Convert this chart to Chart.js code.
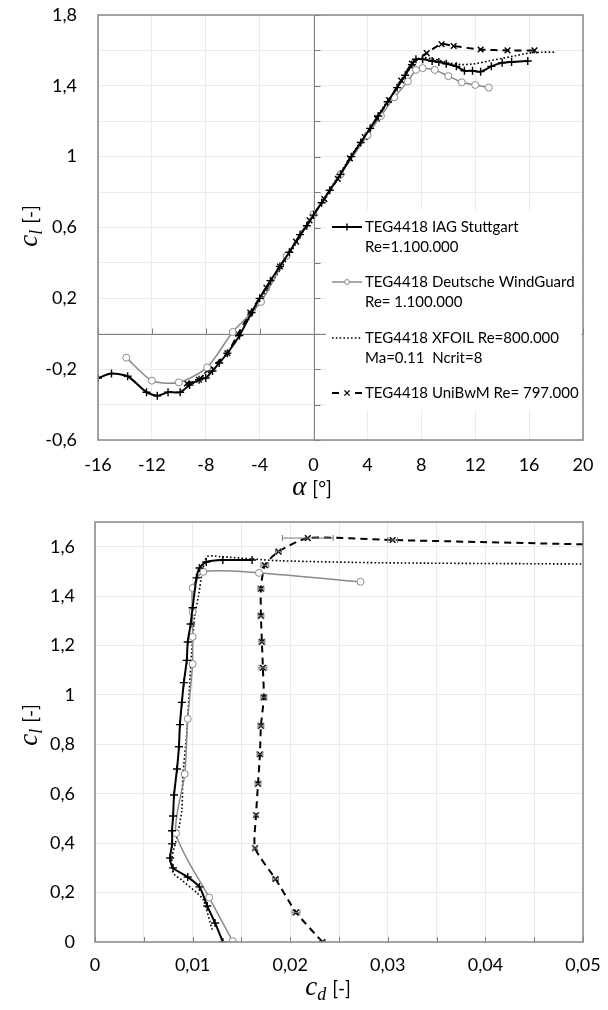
<!DOCTYPE html>
<html>
<head>
<meta charset="utf-8">
<script src="https://cdn.jsdelivr.net/npm/chart.js@4.4.1/dist/chart.umd.min.js"></script>
<style>
  html, body { margin: 0; padding: 0; background: #fff; }
  #wrap { position: relative; width: 608px; height: 1010px; }
  canvas { position: absolute; left: 0; }
</style>
</head>
<body>
<div id="wrap">
  <canvas id="clAlphaChart" width="608" height="500" style="top:0"></canvas>
  <canvas id="clCdChart" width="608" height="510" style="top:500px"></canvas>
</div>
<script>
// ---- lift curve c_l(alpha) ----
const alphaIAG = [-16, -15, -13.8, -12.4, -11.6, -10.8, -9.9, -9.2, -8.5, -8, -7.5, -7, -6.4, -5.5, -4.6, -4, -3.2, -2.5, -1.8, -1,
  -0.5, 0, 0.6, 1.2, 2, 2.8, 3.5, 4.2, 4.8, 5.5, 6.2, 6.8, 7.3, 7.6, 8.1, 8.8, 9.3, 9.85, 10.6, 11.2, 11.8, 12.4, 13.2, 14, 14.7, 15.9];
const clIAG = [-0.25, -0.225, -0.24, -0.33, -0.35, -0.33, -0.33, -0.29, -0.26, -0.25, -0.21, -0.165, -0.11, -0.01, 0.12, 0.2, 0.3, 0.38, 0.46, 0.56,
  0.61, 0.67, 0.74, 0.81, 0.9, 1.0, 1.08, 1.16, 1.23, 1.31, 1.39, 1.46, 1.52, 1.55, 1.55, 1.54, 1.535, 1.525, 1.51, 1.485, 1.485, 1.48, 1.51, 1.53, 1.535, 1.54];

const alphaDWG = [-13.9, -12, -10, -7.9, -6, -3.9, -2, 0, 2, 4, 5, 6, 7, 7.6, 8.1, 9, 10, 11, 12, 13];
const clDWG = [-0.135, -0.265, -0.275, -0.19, 0.01, 0.18, 0.44, 0.675, 0.9, 1.12, 1.23, 1.335, 1.425, 1.49, 1.5, 1.49, 1.455, 1.42, 1.405, 1.39];

const alphaXF = [-5, -4, -3, -2, -1, 0, 1, 2, 3, 4, 5, 6, 7, 7.5, 8, 9, 10, 11, 12, 13, 14, 15, 16, 17, 18];
const clXF = [0.06, 0.18, 0.3, 0.42, 0.55, 0.67, 0.79, 0.91, 1.03, 1.14, 1.26, 1.37, 1.48, 1.54, 1.56, 1.55, 1.53, 1.52, 1.525, 1.54, 1.555, 1.57, 1.585, 1.59, 1.59];

const alphaUni = [-9.4, -8.5, -7.9, -6.4, -5.6, -4.7, -3.5, -2.5, -1.3, -0.3, 0.8, 1.8, 2.7, 3.8, 4.7, 5.6, 6.5, 7.3, 8.4, 9.5, 10.4, 12.4, 14.4, 16.4];
const clUni = [-0.28, -0.26, -0.21, -0.11, 0.0, 0.12, 0.26, 0.38, 0.52, 0.64, 0.76, 0.875, 0.99, 1.11, 1.215, 1.32, 1.43, 1.525, 1.585, 1.635, 1.625, 1.605, 1.6, 1.6];

// ---- drag polar c_l(c_d) ----
const cdIAG = [0.0131, 0.0123, 0.0115, 0.0107, 0.0095, 0.0080, 0.0077, 0.0079, 0.0079, 0.0080, 0.0081, 0.0084, 0.0086, 0.0087, 0.0089, 0.0091, 0.0094, 0.0095, 0.0098, 0.0100, 0.0104, 0.0107, 0.0114, 0.0131, 0.0161];
const clIAGpolar = [0.0, 0.077, 0.146, 0.223, 0.263, 0.30, 0.34, 0.397, 0.45, 0.51, 0.595, 0.70, 0.79, 0.88, 0.97, 1.05, 1.14, 1.214, 1.287, 1.353, 1.474, 1.514, 1.538, 1.546, 1.546];

const cdDWG = [0.0141, 0.0117, 0.0083, 0.0092, 0.0095, 0.0100, 0.0100, 0.0100, 0.0100, 0.0111, 0.0168, 0.0272];
const clDWGpolar = [0.004, 0.18, 0.44, 0.68, 0.903, 1.125, 1.235, 1.336, 1.433, 1.498, 1.494, 1.458];

const cdXF = [0.0120, 0.0111, 0.0104, 0.0089, 0.0080, 0.0079, 0.0084, 0.0089, 0.0090, 0.0094, 0.0098, 0.0102, 0.0106, 0.0110, 0.0115, 0.0128, 0.0162, 0.0190, 0.0292, 0.0500];
const clXFpolar = [0.05, 0.17, 0.20, 0.25, 0.28, 0.345, 0.425, 0.535, 0.67, 0.846, 1.11, 1.316, 1.40, 1.498, 1.56, 1.56, 1.55, 1.543, 1.535, 1.53];

const cdUni = [0.0233, 0.0206, 0.0185, 0.0164, 0.0165, 0.0167, 0.0169, 0.0170, 0.0173, 0.0172, 0.0171, 0.0170, 0.0170, 0.0174, 0.0188, 0.0218, 0.0305, 0.0550];
const clUniPolar = [0.0, 0.12, 0.255, 0.38, 0.514, 0.64, 0.76, 0.875, 0.99, 1.11, 1.215, 1.32, 1.43, 1.525, 1.58, 1.635, 1.627, 1.605];
const cdUniErr = [0.0003, 0.0004, 0.0003, 0.0002, 0.0002, 0.0003, 0.0003, 0.0003, 0.0003, 0.0004, 0.0003, 0.0003, 0.0003, 0.0004, 0.0003, 0.0026, 0.0005, 0];

// legend text (two lines per entry)
const seriesNames = ['TEG4418 IAG Stuttgart', 'TEG4418 Deutsche WindGuard', 'TEG4418 XFOIL Re=800.000', 'TEG4418 UniBwM Re= 797.000'];
const seriesNotes = ['Re=1.100.000', 'Re= 1.100.000', 'Ma=0.11  Ncrit=8', ''];

const FONT = 'Lato, "Open Sans", sans-serif';
const GRID = '#ebebeb';
const AXIS = '#7f7f7f';

const pts = (xs, ys) => xs.map((x, i) => ({ x: x, y: ys[i] }));
const fmt = v => String(+v.toFixed(3)).replace('.', ',');

function styleIAG(data) {
  return { label: seriesNames[0], data, showLine: true, borderColor: '#000', borderWidth: 2, tension: 0.25,
    pointStyle: 'cross', pointRadius: 4, pointBorderWidth: 1.4, pointBorderColor: '#000' };
}
function styleDWG(data) {
  return { label: seriesNames[1], data, showLine: true, borderColor: '#8a8a8a', borderWidth: 1.5, tension: 0.25,
    pointStyle: 'circle', pointRadius: 3.5, pointBorderWidth: 1, pointBorderColor: '#8a8a8a', pointBackgroundColor: '#fff' };
}
function styleXF(data) {
  return { label: seriesNames[2], data, showLine: true, borderColor: '#000', borderWidth: 1.6, borderDash: [1.6, 2.2], tension: 0.25,
    pointRadius: 0 };
}
function styleUni(data) {
  return { label: seriesNames[3], data, showLine: true, borderColor: '#000', borderWidth: 2, borderDash: [7, 5], tension: 0.2,
    pointStyle: 'crossRot', pointRadius: 4, pointBorderWidth: 1.4, pointBorderColor: '#000' };
}

function drawMathTitle(ctx, cx, cy, rotate, sym, sub, unit) {
  ctx.save();
  ctx.translate(cx, cy);
  if (rotate) ctx.rotate(-Math.PI / 2);
  const fSym = 'italic 27px "Liberation Serif"';
  const fSub = 'italic 18px "Liberation Serif"';
  const fUnit = '19px ' + FONT;
  ctx.font = fSym; const w1 = ctx.measureText(sym).width;
  ctx.font = fSub; const w2 = sub ? ctx.measureText(sub).width : 0;
  ctx.font = fUnit; const w3 = ctx.measureText(unit).width;
  const gap = 6;
  let x = -(w1 + w2 + gap + w3) / 2;
  ctx.fillStyle = '#000';
  ctx.textBaseline = 'alphabetic';
  ctx.font = fSym; ctx.fillText(sym, x, 7); x += w1;
  if (sub) { ctx.font = fSub; ctx.fillText(sub, x, 12); x += w2; }
  x += gap;
  ctx.font = fUnit; ctx.fillText(unit, x, 7);
  ctx.restore();
}

function drawMarker(ctx, style, x, y, r) {
  ctx.beginPath();
  if (style === 'cross') {
    ctx.moveTo(x - r, y); ctx.lineTo(x + r, y); ctx.moveTo(x, y - r); ctx.lineTo(x, y + r);
    ctx.stroke();
  } else if (style === 'crossRot') {
    const d = r * 0.75;
    ctx.moveTo(x - d, y - d); ctx.lineTo(x + d, y + d); ctx.moveTo(x - d, y + d); ctx.lineTo(x + d, y - d);
    ctx.stroke();
  } else if (style === 'circle') {
    ctx.arc(x, y, r, 0, Math.PI * 2);
    ctx.fillStyle = '#fff'; ctx.fill(); ctx.stroke();
  }
}

const framePlugin = {
  id: 'frame',
  beforeDatasetsDraw(chart, args, opts) {
    const { ctx, chartArea: a, scales: { x, y } } = chart;
    ctx.save();
    ctx.strokeStyle = AXIS;
    ctx.lineWidth = 1;
    ctx.beginPath();
    if (opts.zeroAxes) {
      const x0 = Math.round(x.getPixelForValue(0)) + 0.5;
      const y0 = Math.round(y.getPixelForValue(0)) + 0.5;
      ctx.moveTo(a.left, y0); ctx.lineTo(a.right, y0);
      ctx.moveTo(x0, a.top); ctx.lineTo(x0, a.bottom);
      x.ticks.forEach(t => { const px = Math.round(x.getPixelForValue(t.value)) + 0.5; ctx.moveTo(px, y0); ctx.lineTo(px, y0 - 6); });
      y.ticks.forEach(t => { const py = Math.round(y.getPixelForValue(t.value)) + 0.5; ctx.moveTo(x0, py); ctx.lineTo(x0 + 6, py); });
    }
    if (opts.bottomTicks) {
      x.ticks.forEach(t => { const px = Math.round(x.getPixelForValue(t.value)) + 0.5; ctx.moveTo(px, a.bottom); ctx.lineTo(px, a.bottom - 5); });
    }
    ctx.stroke();
    ctx.restore();
  },
  afterDatasetsDraw(chart, args, opts) {
    const { ctx, chartArea: a, scales: { x, y } } = chart;
    ctx.save();
    // error bars in c_d
    if (opts.errors) {
      const meta = chart.getDatasetMeta(opts.errors.dataset);
      const ds = chart.data.datasets[opts.errors.dataset];
      ctx.beginPath();
      ctx.rect(a.left, a.top, a.right - a.left, a.bottom - a.top);
      ctx.clip();
      ctx.strokeStyle = '#777';
      ctx.lineWidth = 1;
      ctx.beginPath();
      ds.data.forEach((p, i) => {
        const e = opts.errors.values[i];
        if (!e) return;
        const py = meta.data[i].y;
        const l = x.getPixelForValue(p.x - e), r = x.getPixelForValue(p.x + e);
        ctx.moveTo(l, py); ctx.lineTo(r, py);
        ctx.moveTo(l, py - 3); ctx.lineTo(l, py + 3);
        ctx.moveTo(r, py - 3); ctx.lineTo(r, py + 3);
      });
      ctx.stroke();
    }
    ctx.restore();
  },
  afterDraw(chart, args, opts) {
    const { ctx, chartArea: a } = chart;
    ctx.save();
    ctx.strokeStyle = '#888';
    ctx.lineWidth = 1.5;
    ctx.strokeRect(a.left, a.top, a.right - a.left, a.bottom - a.top);

    if (opts.legend) {
      const lx = a.left + 228, ly = a.top + 195;
      ctx.fillStyle = '#fff';
      ctx.fillRect(lx, ly, a.right - lx - 1.5, 200);
      const sx = a.left + 234, ex = a.left + 264, tx = a.left + 267;
      const rows = [212, 267, 323, 378];
      ctx.font = '15px ' + FONT;
      ctx.textBaseline = 'middle';
      chart.data.datasets.forEach((ds, i) => {
        const yy = a.top + rows[i];
        ctx.save();
        ctx.strokeStyle = ds.borderColor;
        ctx.lineWidth = ds.borderWidth;
        ctx.setLineDash(i === 3 ? [] : (ds.borderDash || []));
        ctx.beginPath();
        if (i === 3) {
          ctx.moveTo(sx, yy); ctx.lineTo(sx + 7, yy);
          ctx.moveTo(ex - 7, yy); ctx.lineTo(ex, yy);
        } else {
          ctx.moveTo(sx, yy); ctx.lineTo(ex, yy);
        }
        ctx.stroke();
        ctx.setLineDash([]);
        ctx.lineWidth = ds.pointBorderWidth || 1;
        ctx.strokeStyle = ds.pointBorderColor || ds.borderColor;
        if (ds.pointRadius) drawMarker(ctx, ds.pointStyle, (sx + ex) / 2, yy, ds.pointStyle === 'circle' ? 2.5 : 3.5);
        ctx.restore();
        ctx.fillStyle = '#000';
        ctx.fillText(seriesNames[i], tx, yy);
        if (seriesNotes[i]) ctx.fillText(seriesNotes[i], tx, yy + 20);
      });
    }
    const t = opts.titles;
    drawMathTitle(ctx, t.yx, t.yy, true, 'c', 'l', '[-]');
    drawMathTitle(ctx, t.xx, t.xy, false, t.xSym, t.xSub, t.xUnit);
    ctx.restore();
  }
};

function baseScale(extra) {
  return Object.assign({
    type: 'linear',
    grid: { color: GRID, drawTicks: false, lineWidth: 1 },
    border: { display: false },
  }, extra);
}

// fixed axis sizes, no label overflow padding
const fixX = h => s => { s.height = h; s.paddingLeft = 0; s.paddingRight = 0; };
const fixY = w => s => { s.width = w; s.paddingTop = 0; s.paddingBottom = 0; };

// ---------- top chart ----------
new Chart(document.getElementById('clAlphaChart'), {
  type: 'scatter',
  data: {
    datasets: [
      styleIAG(pts(alphaIAG, clIAG)),
      styleDWG(pts(alphaDWG, clDWG)),
      styleXF(pts(alphaXF, clXF)),
      styleUni(pts(alphaUni, clUni)),
    ]
  },
  options: {
    responsive: false,
    animation: false,
    events: [],
    layout: { padding: { left: 0, right: 25, top: 15, bottom: 0 } },
    plugins: {
      legend: { display: false },
      tooltip: { enabled: false },
      frame: {
        zeroAxes: true,
        legend: true,
        titles: { yx: 30, yy: 226, xx: 312, xy: 488, xSym: 'α', xSub: '', xUnit: '[°]' }
      }
    },
    scales: {
      x: baseScale({
        min: -16, max: 20,
        ticks: { stepSize: 4, padding: 14, color: '#000', font: { family: FONT, size: 18 }, maxRotation: 0, autoSkip: false, callback: v => fmt(v) },
        afterFit: fixX(60)
      }),
      y: baseScale({
        min: -0.6, max: 1.8,
        ticks: { stepSize: 0.2, padding: 21, color: '#000', font: { family: FONT, size: 18 }, autoSkip: false,
          callback: v => (Math.round((v + 0.6) / 0.2) % 2 === 0 ? fmt(v) : '') },
        afterFit: fixY(98)
      })
    }
  },
  plugins: [framePlugin]
});

// ---------- bottom chart ----------
new Chart(document.getElementById('clCdChart'), {
  type: 'scatter',
  data: {
    datasets: [
      styleIAG(pts(cdIAG, clIAGpolar)),
      styleDWG(pts(cdDWG, clDWGpolar)),
      styleXF(pts(cdXF, clXFpolar)),
      styleUni(pts(cdUni, clUniPolar)),
    ]
  },
  options: {
    responsive: false,
    animation: false,
    events: [],
    layout: { padding: { left: 0, right: 25, top: 22, bottom: 0 } },
    plugins: {
      legend: { display: false },
      tooltip: { enabled: false },
      frame: {
        bottomTicks: true,
        errors: { dataset: 3, values: cdUniErr },
        titles: { yx: 30, yy: 225, xx: 328, xy: 488, xSym: 'c', xSub: 'd', xUnit: '[-]' }
      }
    },
    scales: {
      x: baseScale({
        min: 0, max: 0.05,
        ticks: { stepSize: 0.005, padding: 12, color: '#000', font: { family: FONT, size: 18 }, maxRotation: 0, autoSkip: false,
          callback: v => (Math.round(v / 0.005) % 2 === 0 ? fmt(v) : '') },
        afterFit: fixX(68)
      }),
      y: baseScale({
        min: 0, max: 1.7,
        ticks: { stepSize: 0.2, padding: 20, color: '#000', font: { family: FONT, size: 18 }, autoSkip: false,
          callback: v => (Math.abs(v / 0.2 - Math.round(v / 0.2)) < 1e-6 ? fmt(v) : '') },
        afterFit: fixY(95)
      })
    }
  },
  plugins: [framePlugin]
});
</script>
</body>
</html>
